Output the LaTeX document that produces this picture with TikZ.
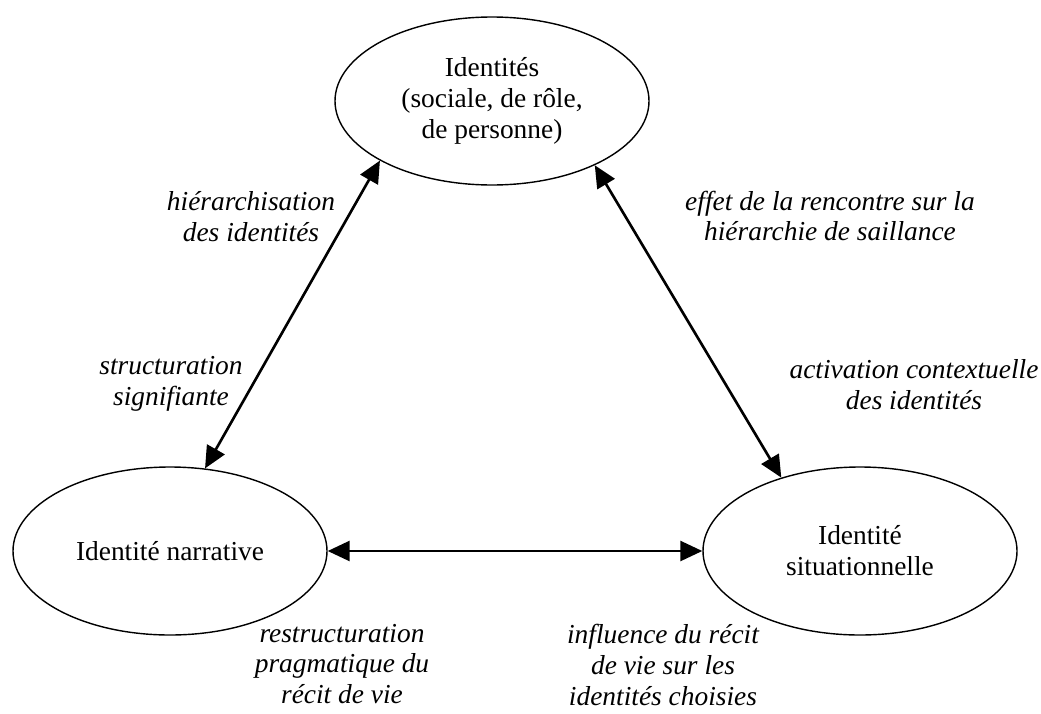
\documentclass[tikz,border=0pt]{standalone}
\usepackage{fontspec}
\setmainfont{Liberation Serif}
\usetikzlibrary{arrows.meta}
\usetikzlibrary{shapes.geometric}

\begin{document}
\begin{tikzpicture}[node distance=1.5cm, align=center]
		\tikzset{%
  >={Triangle[width=4mm,length=4.4mm]},
  % Specifications for style of nodes:
            ident/.style = {ellipse, draw=black, line width=0.8pt,
                           minimum width=6.28cm, minimum height=3.36cm,
                           inner sep=0pt, font=\fontsize{15.6}{17.6}\selectfont},
            lbl/.style = {inner sep=0pt, font=\fontsize{15.6}{17.6}\selectfont\itshape},
            link/.style = {<->, line width=1.5pt},
}
  \useasboundingbox (0,0) rectangle (20.82,-14.26);

  % Specification of nodes (position, etc.)
  \node (idt) [ident] at (9.84,-2.02) {Identités\\(sociale, de rôle,\\de personne)};
  \node (nar) [ident, below of=idt, yshift=-7.5cm, xshift=-6.44cm] {Identité narrative};
  \node (sit) [ident, right of=nar, xshift=12.3cm] {Identité\\situationnelle};

  % labels beside the links
  \node (hier) [lbl] at ([xshift=-4.82cm,yshift=-2.32cm]idt.center) {hiérarchisation\\des identités};
  \node (struct) [lbl] at ([xshift=-6.42cm,yshift=-5.66cm]idt.center) {structuration\\signifiante};
  \node (effet) [lbl] at ([xshift=6.76cm,yshift=-2.30cm]idt.center) {effet de la rencontre sur la\\hiérarchie de saillance};
  \node (activ) [lbl] at ([xshift=8.44cm,yshift=-5.68cm]idt.center) {activation contextuelle\\des identités};
  \node (restr) [lbl] at ([xshift=-3.0cm,yshift=-11.26cm]idt.center) {restructuration\\pragmatique du\\récit de vie};
  \node (influ) [lbl] at ([xshift=3.42cm,yshift=-11.28cm]idt.center) {influence du récit\\de vie sur les\\identités choisies};

  % Specification of lines between nodes specified above
\draw[link] (idt.208) -- (nar.67);
\draw[link] (idt.328) -- (sit.137);
\draw[link] (nar) -- (sit);

\end{tikzpicture}
\end{document}
